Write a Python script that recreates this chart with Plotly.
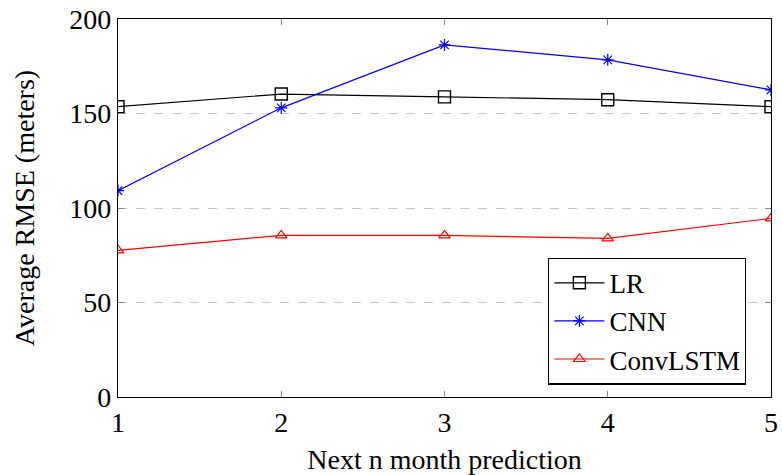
import plotly.graph_objects as go

months = [1, 2, 3, 4, 5]
lr = [153.6, 160.3, 158.8, 157.3, 153.6]
cnn = [109.2, 153.0, 186.3, 178.4, 162.5]
convlstm = [77.6, 85.5, 85.5, 83.9, 94.5]

ff = "Liberation Serif"

fig = go.Figure()
fig.add_trace(go.Scatter(x=months, y=lr, name="LR", mode="lines+markers",
                         line=dict(color="black", width=1.2),
                         marker=dict(symbol="square-open", size=12, color="black", line=dict(width=1.4))))
fig.add_trace(go.Scatter(x=months, y=cnn, name="CNN", mode="lines+markers",
                         line=dict(color="blue", width=1.2),
                         marker=dict(symbol="asterisk-open", size=10, color="blue", line=dict(width=1.2, color="blue"))))
fig.add_trace(go.Scatter(x=months, y=convlstm, name="ConvLSTM", mode="lines+markers",
                         line=dict(color="red", width=1.2),
                         marker=dict(symbol="triangle-up-open", size=10, color="red", line=dict(width=1.2))))

fig.update_layout(
    width=782, height=475,
    margin=dict(l=118, r=4, t=18, b=78),
    paper_bgcolor="white", plot_bgcolor="white",
    font=dict(family=ff, size=26, color="black"),
    showlegend=True,
    legend=dict(x=0.962, y=0.033, xanchor="right", yanchor="bottom",
                bordercolor="black", borderwidth=1.2, bgcolor="white",
                font=dict(family=ff, size=27, color="black"), tracegroupgap=0, itemwidth=50),
    xaxis=dict(range=[1, 5], tickvals=months, ticktext=[str(m) for m in months],
               ticks="inside", ticklen=6, tickcolor="#888", mirror="ticks",
               showline=True, linecolor="black", linewidth=1.3, showgrid=False,
               zeroline=False, ticklabeloverflow="allow",
               title=dict(text="Next n month prediction", standoff=12, font=dict(family=ff, size=28)),
               tickfont=dict(family=ff, size=28)),
    yaxis=dict(range=[0, 200], tickvals=[0, 50, 100, 150, 200],
               ticks="inside", ticklen=6, tickcolor="#888", mirror="ticks",
               showline=True, linecolor="black", linewidth=1.3,
               showgrid=True, gridcolor="#c8c8c8", griddash="dash", gridwidth=1,
               zeroline=False,
               title=dict(text="Average RMSE (meters)", standoff=26, font=dict(family=ff, size=28)),
               tickfont=dict(family=ff, size=28)),
)

fig.write_html("out.html")
